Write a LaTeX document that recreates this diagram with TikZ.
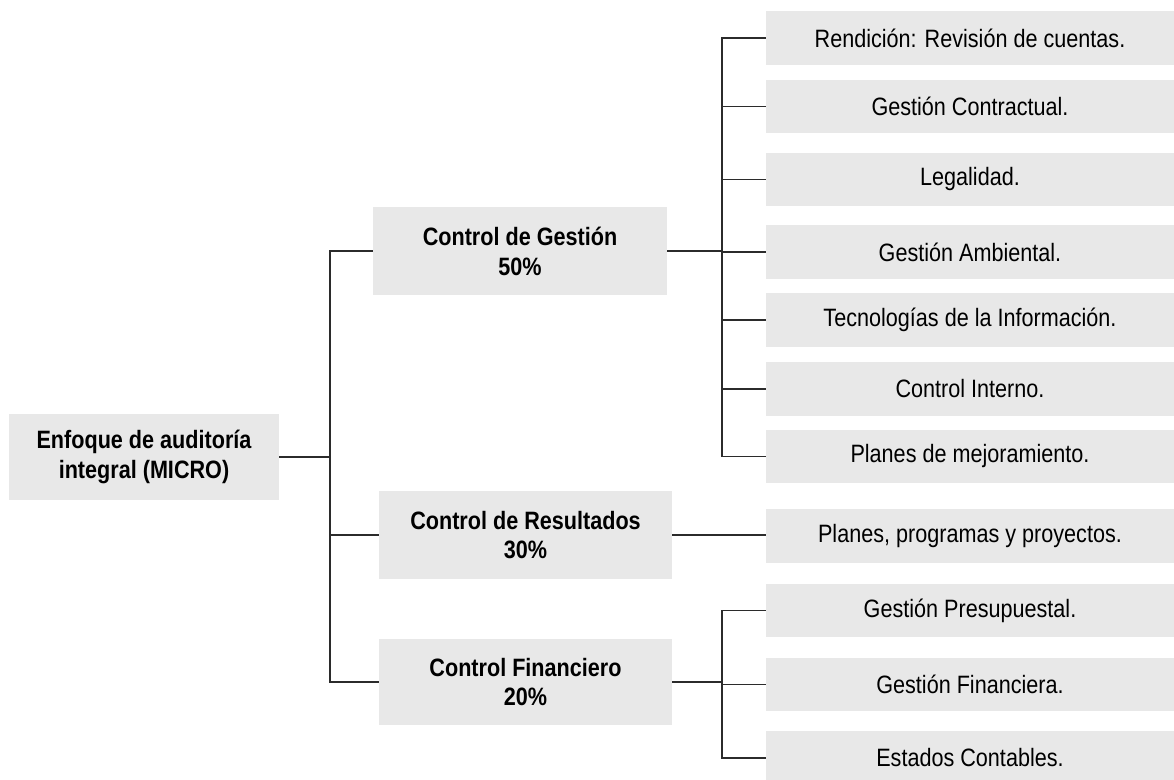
\documentclass[tikz,border=0pt]{standalone}
\usepackage{fontspec}
\setmainfont[FakeStretch=0.86]{Liberation Sans}
\definecolor{boxGrey}{HTML}{E8E8E8}
\definecolor{lineDark}{HTML}{2B2B2B}
\usetikzlibrary{positioning,calc}

\begin{document}
\begin{tikzpicture}[x=0.02cm, y=-0.02cm,
  font=\fontsize{14.3}{17}\selectfont,
  box/.style={fill=boxGrey, inner sep=0pt, align=center},
  mainbox/.style={box, font=\fontsize{14.3}{17}\selectfont\bfseries},
  leaf/.style={box, minimum width=8.16cm, minimum height=1.08cm},
  link/.style={draw=lineDark, line width=0.6pt}]
\useasboundingbox (0,0) rectangle (1174,780);
% root and second level
\node[mainbox, minimum width=5.4cm, minimum height=1.72cm] (root) at (144,457) {Enfoque de auditoría\\integral (MICRO)};
\node[mainbox, minimum width=5.88cm, minimum height=1.76cm] (gestion) at (520,251) {Control de Gestión\\50\%};
\node[mainbox, minimum width=5.86cm, minimum height=1.76cm] (result) at (525.5,535) {Control de Resultados\\30\%};
\node[mainbox, minimum width=5.86cm, minimum height=1.72cm] (financ) at (525.5,682) {Control Financiero\\20\%};
% leaves
\node[leaf] (rend) at (970,38) {Rendición: Revisión de cuentas.};
\node[leaf] (contr) at (970,106.5) {Gestión Contractual.};
\node[leaf] (legal) at (970,179.5) {Legalidad.};
\node[leaf] (ambi) at (970,252) {Gestión Ambiental.};
\node[leaf] (tecno) at (970,320) {Tecnologías de la Información.};
\node[leaf] (cint) at (970,389) {Control Interno.};
\node[leaf] (mejora) at (970,456.5) {Planes de mejoramiento.};
\node[leaf] (planes) at (970,536) {Planes, programas y proyectos.};
\node[leaf] (presu) at (970,610.5) {Gestión Presupuestal.};
\node[leaf] (finan) at (970,684.5) {Gestión Financiera.};
\node[leaf] (estad) at (970,758) {Estados Contables.};
% bus lines
\coordinate (trunk) at (330,0);
\coordinate (gbus) at (722,0);
\foreach \child in {gestion,result,financ}
  \draw[link] (root.east) -- (root.east -| trunk) |- (\child.west);
\foreach \leafname in {rend,contr,legal,ambi,tecno,cint,mejora}
  \draw[link] (gestion.east) -- (gestion.east -| gbus) |- (\leafname.west);
\draw[link] (result.east) -- (result.east -| planes.west);
\foreach \leafname in {presu,finan,estad}
  \draw[link] (financ.east) -- (financ.east -| gbus) |- (\leafname.west);
\end{tikzpicture}
\end{document}
